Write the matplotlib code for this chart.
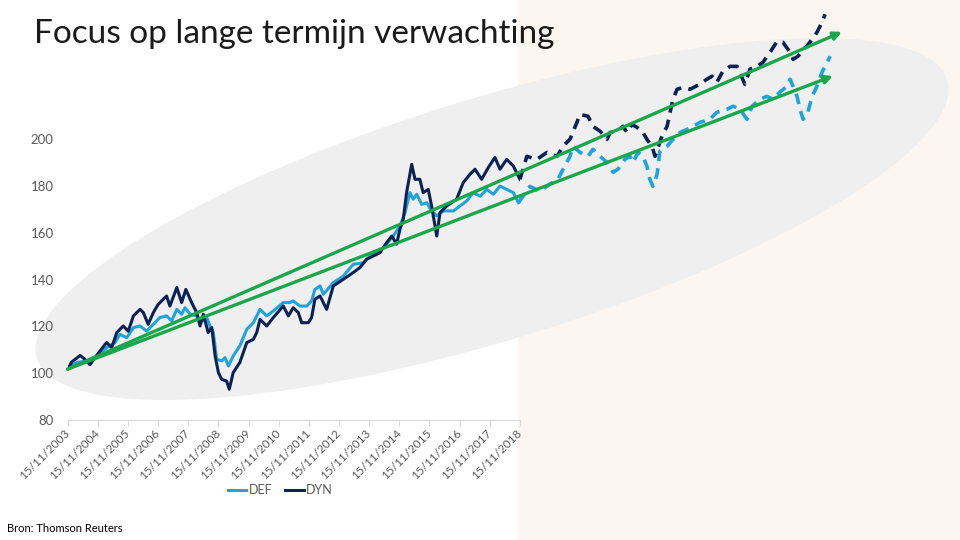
import matplotlib.pyplot as plt
from matplotlib.patches import Ellipse, Rectangle

# years since 15/11/2003 and index values
years = list(range(2003, 2019))
tick_labels = [f'15/11/{y}' for y in years]

dyn_t = [0.02, 0.13, 0.41, 0.57, 0.74, 1.07, 1.29, 1.46, 1.63, 1.84, 2.01, 2.18, 2.40, 2.51, 2.67,
         2.84, 3.00, 3.28, 3.39, 3.62, 3.78, 3.92, 4.11, 4.28, 4.39, 4.50, 4.66, 4.78, 4.89, 5.00,
         5.11, 5.27, 5.36, 5.49, 5.71, 5.94, 6.16, 6.27, 6.38, 6.60, 6.82, 7.15, 7.32, 7.48, 7.65,
         7.76, 7.98, 8.09, 8.20, 8.37, 8.59, 8.81, 9.14, 9.47, 9.69, 9.92, 10.36, 10.58, 10.75,
         10.91, 11.02, 11.13, 11.24, 11.41, 11.52, 11.68, 11.79, 11.96, 12.07, 12.24, 12.35, 12.57,
         12.90, 13.12, 13.34, 13.51, 13.73, 13.95, 14.17, 14.34, 14.56, 14.78, 15.00]
dyn_v = [102.1, 104.8, 107.6, 106.0, 103.7, 109.5, 113.1, 111.0, 117.4, 120.2, 118.0, 124.5, 127.3,
         125.9, 120.9, 125.9, 129.4, 133.0, 128.7, 136.6, 130.2, 135.8, 130.2, 125.9, 120.2, 125.2,
         117.4, 119.5, 107.4, 100.3, 97.4, 96.7, 93.2, 100.3, 104.6, 113.1, 114.5, 117.4, 123.0,
         120.2, 123.8, 128.7, 124.5, 128.0, 125.9, 121.6, 121.6, 123.8, 131.6, 133.0, 127.3, 137.3,
         140.1, 143.0, 145.1, 148.7, 151.5, 155.8, 158.6, 155.1, 161.5, 165.7, 177.1, 189.2, 182.8,
         182.8, 177.1, 178.5, 171.4, 158.6, 168.6, 171.4, 174.3, 181.4, 184.9, 187.1, 182.8, 187.8,
         192.1, 187.1, 191.3, 188.5, 182.8]

def_t = [0.02, 0.30, 0.63, 0.96, 1.29, 1.57, 1.73, 1.96, 2.18, 2.40, 2.62, 2.84, 3.06, 3.28, 3.45,
         3.62, 3.78, 3.89, 4.06, 4.28, 4.39, 4.61, 4.72, 4.83, 4.94, 5.11, 5.22, 5.33, 5.49, 5.71,
         5.94, 6.16, 6.38, 6.60, 6.82, 7.15, 7.37, 7.48, 7.70, 7.93, 8.09, 8.20, 8.37, 8.48, 8.81,
         9.14, 9.47, 9.80, 10.14, 10.47, 10.80, 11.02, 11.19, 11.35, 11.46, 11.58, 11.74, 11.91,
         12.07, 12.24, 12.46, 12.79, 13.01, 13.23, 13.45, 13.68, 13.90, 14.12, 14.34, 14.56, 14.78,
         14.95]
def_v = [102.4, 104.6, 105.3, 107.4, 111.0, 113.1, 116.6, 115.2, 119.5, 120.2, 118.0, 120.9, 123.8,
         124.5, 122.4, 127.3, 125.2, 128.0, 125.2, 124.5, 121.6, 123.8, 120.2, 117.4, 106.0, 105.3,
         106.7, 103.1, 107.4, 111.7, 118.8, 121.6, 127.3, 124.5, 126.6, 130.2, 130.2, 130.9, 128.7,
         128.7, 130.9, 135.8, 137.3, 133.7, 138.7, 141.5, 146.5, 147.2, 151.5, 153.6, 158.6, 162.9,
         168.6, 177.1, 174.3, 176.4, 172.1, 172.8, 169.3, 167.2, 169.3, 169.3, 171.4, 173.5, 177.1,
         175.6, 178.5, 176.4, 179.9, 178.5, 177.1, 172.8]

# dashed continuation (expectation)
dyn_fut_t = [15.00, 15.23, 15.56, 15.90, 16.23, 16.43, 16.66, 16.89, 16.99, 17.26, 17.42, 17.66,
             17.89, 17.99, 18.22, 18.42, 18.55, 18.71, 18.88, 19.08, 19.21, 19.38, 19.48, 19.71,
             19.88, 19.98, 20.08, 20.21, 20.41, 20.64, 20.97, 21.20, 21.37, 21.53, 21.73, 21.97,
             22.20, 22.36, 22.46, 22.63, 22.86, 23.06, 23.36, 23.53, 23.72, 23.96, 24.06, 24.22,
             24.39, 24.52, 24.69, 24.85, 25.02, 25.12]
dyn_fut_v = [182.8, 192.6, 191.3, 194.3, 192.6, 196.9, 199.9, 207.1, 210.5, 209.7, 205.4, 203.3,
             199.9, 202.8, 203.3, 205.4, 202.8, 206.2, 205.0, 202.8, 199.9, 196.9, 192.6, 201.2,
             205.4, 211.4, 217.0, 221.2, 222.0, 221.2, 223.4, 225.5, 226.8, 224.2, 228.9, 231.0,
             231.0, 226.3, 223.4, 229.8, 231.0, 232.7, 238.3, 241.7, 241.3, 237.0, 234.0, 235.3,
             238.3, 239.6, 242.6, 245.5, 249.8, 253.2]
def_fut_t = [14.95, 15.33, 15.66, 15.99, 16.26, 16.43, 16.66, 16.76, 16.99, 17.26, 17.42, 17.66,
             17.89, 18.09, 18.25, 18.48, 18.65, 18.75, 18.92, 19.08, 19.21, 19.31, 19.41, 19.55,
             19.64, 19.88, 20.08, 20.31, 20.54, 20.74, 20.97, 21.30, 21.53, 21.87, 22.07, 22.30,
             22.53, 22.70, 22.96, 23.19, 23.39, 23.62, 23.86, 23.96, 24.06, 24.19, 24.29, 24.39,
             24.52, 24.69, 24.85, 25.02, 25.19, 25.29]
def_fut_v = [172.8, 179.8, 177.7, 180.7, 182.8, 187.1, 192.6, 196.9, 194.3, 192.6, 195.6, 192.6,
             190.0, 185.8, 187.1, 191.3, 192.6, 190.0, 194.3, 192.6, 188.4, 182.8, 179.8, 185.0,
             194.7, 196.9, 199.9, 202.8, 204.1, 205.4, 207.1, 208.4, 211.4, 212.7, 214.0, 212.7,
             208.4, 214.0, 217.0, 218.2, 217.0, 220.0, 222.5, 225.5, 222.5, 218.2, 212.7, 208.4,
             210.0, 218.2, 222.5, 228.5, 232.7, 235.3]

# trend arrows: start and end (t, value)
trend_start = (0.0, 101.8)
trend_ends = [(25.68, 245.7), (25.38, 226.9)]

DEF_COLOR = '#1fa3dc'
DYN_COLOR = '#0c2254'
GREEN = '#1aa64b'
GREY_TXT = '#595959'

fig = plt.figure(figsize=(9.6, 5.4), dpi=100)

# background: white / beige split plus grey ellipse (pixel coordinates)
bg = fig.add_axes([0, 0, 1, 1], zorder=0)
bg.set_xlim(0, 960)
bg.set_ylim(0, 540)
bg.axis('off')
bg.add_patch(Rectangle((518, 0), 442, 540, color='#fbf6f0', lw=0))
bg.add_patch(Ellipse((492, 321), 952, 242, angle=17, color='#efefef', lw=0))

ax = fig.add_axes([0.0705, 0.2219, 0.4711, 0.5207], zorder=1)
ax.patch.set_alpha(0)
ax.set_xlim(0, 15)
ax.set_ylim(80, 200)

ax.plot(def_t, def_v, color=DEF_COLOR, lw=2.2, label='DEF', solid_joinstyle='round')
ax.plot(dyn_t, dyn_v, color=DYN_COLOR, lw=2.2, label='DYN', solid_joinstyle='round')
ax.plot(def_fut_t, def_fut_v, color=DEF_COLOR, lw=2.6, ls=(0, (3, 2)), clip_on=False)
ax.plot(dyn_fut_t, dyn_fut_v, color=DYN_COLOR, lw=2.6, ls=(0, (3, 2)), clip_on=False)

for end in trend_ends:
    ax.annotate('', xy=end, xytext=trend_start, annotation_clip=False,
                arrowprops=dict(arrowstyle='-|>', color=GREEN, lw=2.4,
                                mutation_scale=12, shrinkA=0, shrinkB=0))

for s in ['top', 'right', 'left']:
    ax.spines[s].set_visible(False)
ax.spines['bottom'].set_color('#d9d9d9')

ax.set_yticks(range(80, 201, 20))
ax.tick_params(axis='y', length=0, pad=10, labelsize=9.5, labelcolor=GREY_TXT)
ax.set_xticks(range(len(years)))
ax.set_xticklabels(tick_labels, rotation=45, ha='right', va='center',
                   rotation_mode='anchor')
ax.tick_params(axis='x', length=4, color='#d9d9d9', pad=4, labelsize=8.5,
               labelcolor=GREY_TXT)
for lab in ax.get_xticklabels() + ax.get_yticklabels():
    lab.set_family('Lato')

fig.legend(loc='center', bbox_to_anchor=(0.292, 0.092), ncol=2, frameon=False,
           handlelength=1.5, handletextpad=0.2, columnspacing=1.0,
           prop={'family': 'Lato', 'size': 9}, labelcolor=GREY_TXT)

fig.text(34 / 960, 1 - 34 / 540, 'Focus op lange termijn verwachting', fontsize=24,
         family='Lato', va='center', ha='left', color='#1a1a1a')
fig.text(7 / 960, 1 - 528 / 540, 'Bron: Thomson Reuters', fontsize=8, family='Lato',
         va='center', ha='left')

fig.savefig('out.png', dpi=100)
